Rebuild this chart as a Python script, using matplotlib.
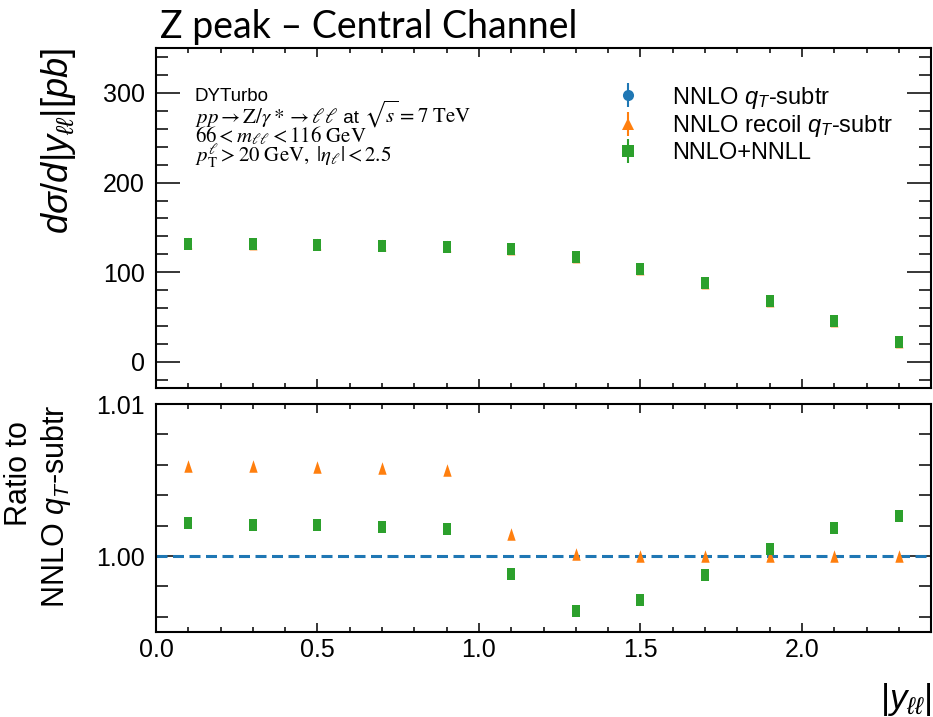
import matplotlib
matplotlib.use("Agg")
import matplotlib.pyplot as plt
from matplotlib.ticker import MultipleLocator, FormatStrFormatter
from matplotlib.transforms import ScaledTranslation
import numpy as np

# ---------------- data ----------------
y_centers = [0.1, 0.3, 0.5, 0.7, 0.9, 1.1, 1.3, 1.5, 1.7, 1.9, 2.1, 2.3]
xsec_qt = [131.5, 131.2, 130.4, 129.4, 128.3, 125.6, 117.0, 104.2, 87.9, 67.8, 45.5, 22.7]
xsec_qt_err = [0.6, 0.6, 0.6, 0.6, 0.6, 0.6, 0.5, 0.5, 0.4, 0.4, 0.3, 0.3]
ratio_recoil = [1.0059, 1.0059, 1.00586, 1.0058, 1.00564, 1.00145, 1.0001, 1.0000, 1.0000, 0.99998, 1.0000, 1.0000]
ratio_nnll = [1.00214, 1.00201, 1.00203, 1.00194, 1.00178, 0.99884, 0.99635, 0.99712, 0.99877, 1.00049, 1.00185, 1.00264]

labels = ["NNLO $q_T$-subtr", "NNLO recoil $q_T$-subtr", "NNLO+NNLL"]
colors = ["#1f77b4", "#ff7f0e", "#2ca02c"]

x = np.array(y_centers)
qt = np.array(xsec_qt)
qt_err = np.array(xsec_qt_err)
recoil = qt * np.array(ratio_recoil)
nnll = qt * np.array(ratio_nnll)

# ---------------- style ----------------
plt.rcParams['font.family'] = ['Liberation Sans', 'DejaVu Sans']
plt.rcParams['mathtext.fontset'] = 'custom'
plt.rcParams['mathtext.rm'] = 'Liberation Sans'
plt.rcParams['mathtext.it'] = 'Liberation Sans:italic'
plt.rcParams['mathtext.bf'] = 'Liberation Sans:bold'
plt.rcParams['axes.linewidth'] = 1.5

sq = [(-2, -3), (2, -3), (2, 3), (-2, 3), (-2, -3)]
tri = [(0, 3), (-2, -3), (2, -3), (0, 3)]

fig = plt.figure(figsize=(9.33, 7.17), dpi=100)
L, R = 156 / 933, 0.998
ax1 = fig.add_axes([L, 1 - 388 / 717, R - L, (388 - 48) / 717])
ax2 = fig.add_axes([L, 1 - 632 / 717, R - L, (632 - 404) / 717])

def style(ax):
    ax.tick_params(axis='both', which='both', direction='in', top=True, right=True, width=1.1)
    ax.tick_params(axis='x', which='major', length=6.5, labelsize=18, pad=4)
    ax.tick_params(axis='x', which='minor', length=3.6)
    ax.tick_params(axis='y', which='major', length=17, labelsize=18, pad=8)
    ax.tick_params(axis='y', which='minor', length=8.6)
    ax.set_xlim(0, 2.4)
    ax.xaxis.set_major_locator(MultipleLocator(0.5))
    ax.xaxis.set_minor_locator(MultipleLocator(0.1))

style(ax1)
style(ax2)

# top panel
ax1.errorbar(x, qt, yerr=qt_err, fmt='o', color=colors[0], ms=5, mew=0, elinewidth=1.2, zorder=2)
ax1.errorbar(x, recoil, yerr=qt_err, fmt='none', ecolor=colors[1], elinewidth=1.2, zorder=3)
ax1.plot(x, recoil, linestyle='none', marker=tri, color=colors[1], ms=8.5, mew=0, zorder=3)
ax1.errorbar(x, nnll, yerr=qt_err, fmt='none', ecolor=colors[2], elinewidth=1.2, zorder=4)
ax1.plot(x, nnll, linestyle='none', marker=sq, color=colors[2], ms=9, mew=0, zorder=4)
ax1.set_ylim(-29, 350)
ax1.yaxis.set_major_locator(MultipleLocator(100))
ax1.yaxis.set_minor_locator(MultipleLocator(20))
ax1.tick_params(axis='x', labelbottom=False)

# legend with errorbar-style handles
h1 = ax1.errorbar([], [], yerr=[], fmt='o', color=colors[0], ms=8, mew=0, elinewidth=1.5)
h2 = ax1.errorbar([], [], yerr=[], fmt='^', color=colors[1], ms=9, mew=0, elinewidth=1.5)
h3 = ax1.errorbar([], [], yerr=[], fmt='s', color=colors[2], ms=8, mew=0, elinewidth=1.5)
ax1.legend([h1, h2, h3], labels, loc='upper right', bbox_to_anchor=(0.978, 0.955), fontsize=17,
           frameon=False, handletextpad=1.1, labelspacing=0.12, handlelength=1.5)

ax1.set_ylabel(r"$d\sigma/d|y_{\ell\ell}|[pb]$", fontsize=26, loc='top')
ax1.yaxis.set_label_coords(-0.1, 1.0)

# info text (pieces placed one after the other on a common baseline)
fig.canvas.draw()
renderer = fig.canvas.get_renderer()
tx = (195 - 156) / 777

def text_line(pieces, y):
    off = 0.0
    for s, size, stix in pieces:
        kw = dict(math_fontfamily='stix') if stix else {}
        t = ax1.text(tx, y, s, fontsize=size, va='baseline', ha='left',
                     transform=ax1.transAxes + ScaledTranslation(off / 72.0, 0, fig.dpi_scale_trans), **kw)
        w = t.get_window_extent(renderer=renderer).width
        off += w * 72.0 / fig.dpi

MS = 15
TS = 13.5
text_line([("DYTurbo", TS, False)], (388 - 101) / 340)
text_line([(r"$pp \rightarrow \mathrm{Z}/\gamma* \rightarrow \ell\ell$", MS, True),
           (" at ", TS, False),
           (r"$\sqrt{s} = 7\ \mathrm{TeV}$", MS, True)], (388 - 123) / 340)
text_line([(r"$66 < m_{\ell\ell} < 116\ \mathrm{GeV}$", MS, True)], (388 - 142) / 340)
text_line([(r"$p_{\mathrm{T}}^{\ell} > 20\ \mathrm{GeV},\ |\eta_{\ell}| < 2.5$", MS, True)], (388 - 162) / 340)

# ratio panel
ax2.axhline(1.0, color=colors[0], lw=2.2, linestyle=(0, (3.6, 1.8)))
ax2.plot(x, ratio_recoil, linestyle='none', marker=tri, color=colors[1], ms=9, mew=0, zorder=3)
ax2.plot(x, ratio_nnll, linestyle='none', marker=sq, color=colors[2], ms=9, mew=0, zorder=4)
ax2.set_ylim(0.995, 1.01)
ax2.yaxis.set_major_locator(MultipleLocator(0.01))
ax2.yaxis.set_minor_locator(MultipleLocator(0.002))
ax2.yaxis.set_major_formatter(FormatStrFormatter('%.2f'))
ax2.set_ylabel("Ratio to  \nNNLO $q_T$-subtr", fontsize=22, loc='top')
ax2.yaxis.set_label_coords(-0.107, 1.0)
ax2.set_xlabel(r"$|y_{\ell\ell}|$", fontsize=25, loc='right', labelpad=14)

fig.text(160 / 933, 1 - 38 / 717, "Z peak \u2013 Central Channel", fontsize=27, family='Lato', va='baseline')

fig.savefig("out.png", dpi=100)
